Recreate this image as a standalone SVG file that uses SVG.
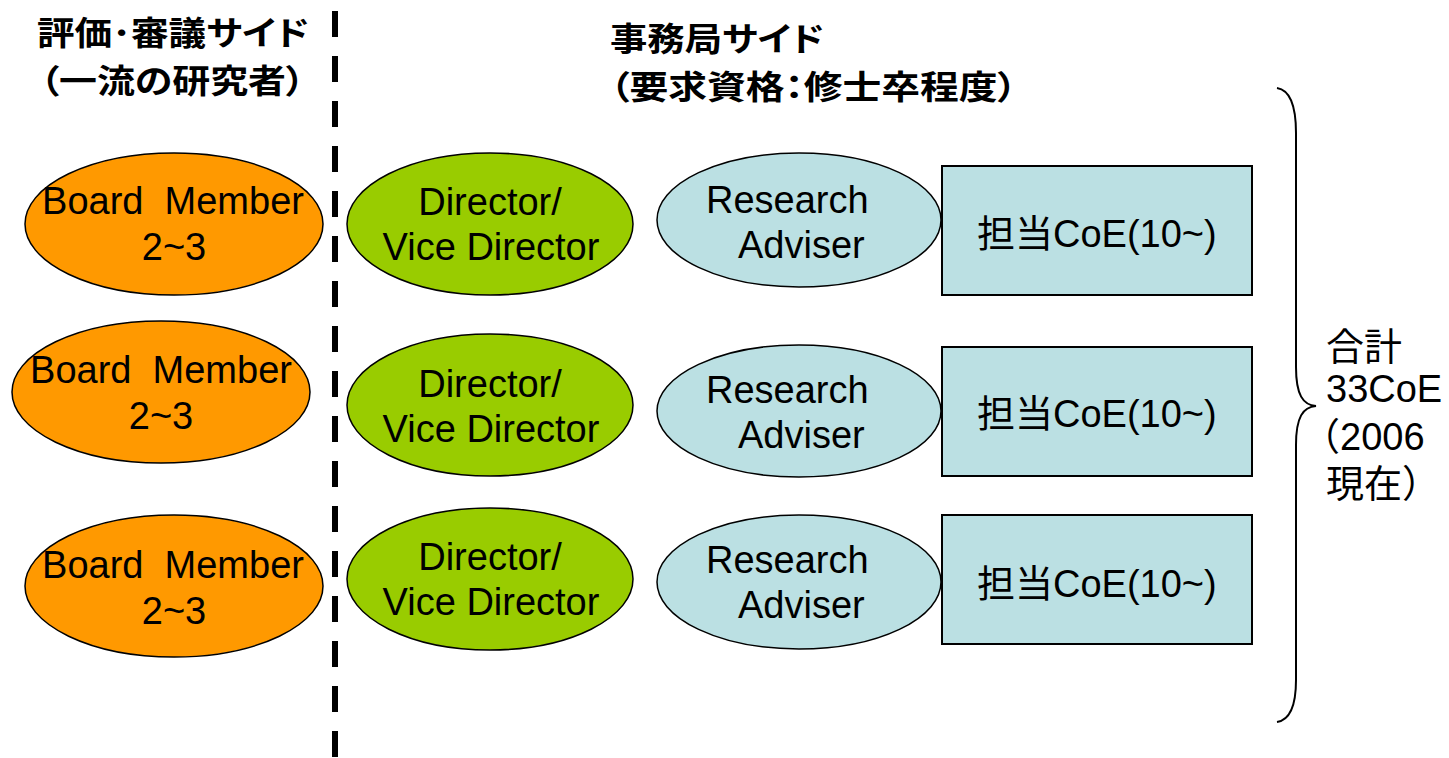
<svg xmlns="http://www.w3.org/2000/svg" width="1449" height="758" viewBox="0 0 1449 758">
<style>
.lbl{font-family:"Liberation Sans","Noto Sans CJK JP",sans-serif;font-size:38px;fill:#000;white-space:pre}
.mid{text-anchor:middle}
.ttl{font-family:"Noto Sans CJK JP","Noto Sans CJK SC",sans-serif;font-size:33px;font-weight:bold;fill:#000;font-feature-settings:"palt"}
.board{fill:#FF9900;stroke:#000;stroke-width:1.5}
.dir{fill:#99CC00;stroke:#000;stroke-width:1.5}
.res{fill:#BBE0E3;stroke:#000;stroke-width:1.5}
.box{fill:#BBE0E3;stroke:#000;stroke-width:2}
</style>
<rect width="1449" height="758" fill="#fff"/>
<g id="titles">
<text class="ttl" x="37" y="45" textLength="272" lengthAdjust="spacingAndGlyphs">評価･審議サイド</text>
<text class="ttl" x="40" y="93" textLength="265" lengthAdjust="spacingAndGlyphs">（一流の研究者）</text>
<text class="ttl" x="610" y="51" textLength="214" lengthAdjust="spacingAndGlyphs">事務局サイド</text>
<text class="ttl" x="610" y="99" textLength="407" lengthAdjust="spacingAndGlyphs">（要求資格：修士卒程度）</text>
</g>
<g id="divider">
<line x1="335" y1="11" x2="335" y2="758" stroke="#000" stroke-width="6" stroke-dasharray="26 19"/>
</g>
<g id="board1"><ellipse class="board" cx="174" cy="224" rx="149" ry="71"/><text class="lbl mid" x="173" y="214" xml:space="preserve">Board  Member</text><text class="lbl mid" x="174" y="260">2~3</text></g>
<g id="board2"><ellipse class="board" cx="161" cy="392" rx="149" ry="71"/><text class="lbl mid" x="161" y="383" xml:space="preserve">Board  Member</text><text class="lbl mid" x="161" y="429">2~3</text></g>
<g id="board3"><ellipse class="board" cx="174" cy="586" rx="149" ry="71"/><text class="lbl mid" x="173" y="578" xml:space="preserve">Board  Member</text><text class="lbl mid" x="174" y="624">2~3</text></g>
<g id="dir1"><ellipse class="dir" cx="490" cy="224" rx="143" ry="71"/><text class="lbl mid" x="490" y="215">Director/</text><text class="lbl mid" x="491" y="260">Vice Director</text></g>
<g id="dir2"><ellipse class="dir" cx="490" cy="405" rx="143" ry="71"/><text class="lbl mid" x="490" y="397">Director/</text><text class="lbl mid" x="491" y="442">Vice Director</text></g>
<g id="dir3"><ellipse class="dir" cx="490" cy="579" rx="143" ry="71"/><text class="lbl mid" x="490" y="570">Director/</text><text class="lbl mid" x="491" y="615">Vice Director</text></g>
<g id="res1"><ellipse class="res" cx="799" cy="220" rx="142" ry="67"/><text class="lbl" x="706" y="213">Research</text><text class="lbl" x="738" y="258">Adviser</text></g>
<g id="res2"><ellipse class="res" cx="799" cy="411" rx="142" ry="66"/><text class="lbl" x="706" y="403">Research</text><text class="lbl" x="738" y="448">Adviser</text></g>
<g id="res3"><ellipse class="res" cx="799" cy="582" rx="142" ry="67"/><text class="lbl" x="706" y="573">Research</text><text class="lbl" x="738" y="618">Adviser</text></g>
<g id="coe1"><rect class="box" x="942" y="166" width="310" height="129"/><text class="lbl" x="977" y="247">担当CoE(10~)</text></g>
<g id="coe2"><rect class="box" x="942" y="347" width="310" height="129"/><text class="lbl" x="977" y="427">担当CoE(10~)</text></g>
<g id="coe3"><rect class="box" x="942" y="515" width="310" height="129"/><text class="lbl" x="977" y="597">担当CoE(10~)</text></g>
<g id="connectors">
<path d="M1277,88 C1290,90 1296,105 1296,133 L1296,367 C1296,395 1303,405 1316,406 C1303,407 1296,417 1296,445 L1296,680 C1296,705 1290,720 1277,722" fill="none" stroke="#000" stroke-width="2"/>
</g>
<g id="total">
<text class="lbl" x="1326" y="360">合計</text>
<text class="lbl" x="1326" y="402">33CoE</text>
<text class="lbl" x="1302" y="450">（2006</text>
<text class="lbl" x="1326" y="497">現在）</text>
</g>
</svg>
